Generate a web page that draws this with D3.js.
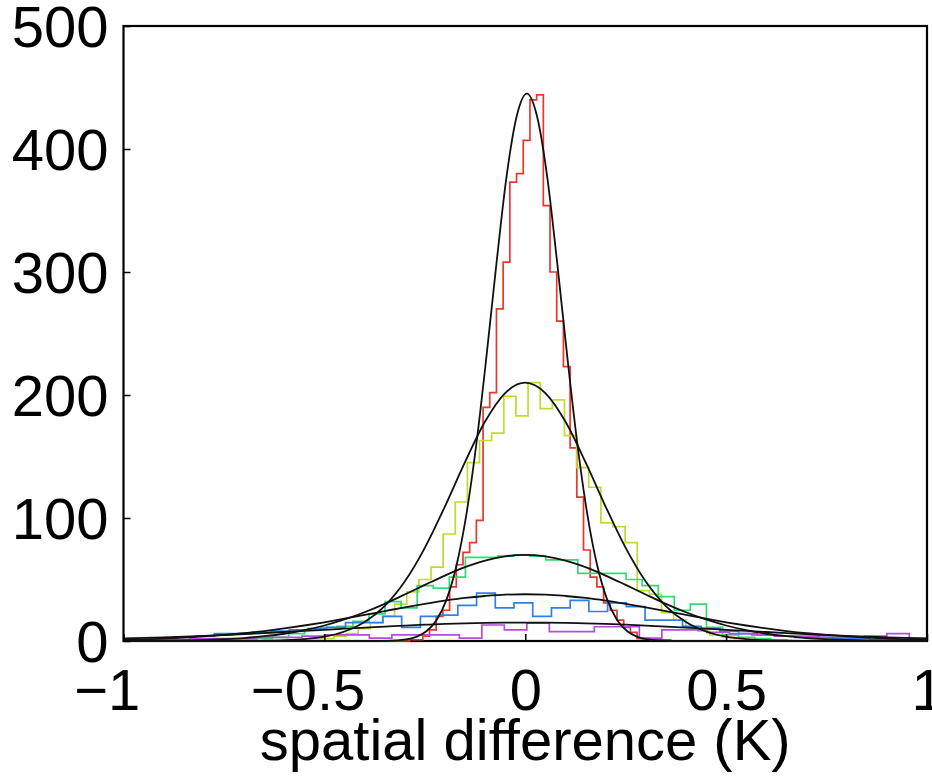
<!DOCTYPE html>
<html>
<head>
<meta charset="utf-8">
<script src="https://cdn.jsdelivr.net/npm/d3@7"></script>
<style>
  body { margin: 0; background: #fff; }
  svg { display: block; }
  text { font-family: "Liberation Sans", Arial, Helvetica, sans-serif; fill: #000; }
</style>
</head>
<body>
<script>
// histogram bins: first edge, bin width, counts
const redStart = -0.305, redWidth = 0.016667;
const redCounts = [0, 1, 1, 4, 9, 20, 25, 44, 62, 72, 80, 98, 190, 202, 270, 308, 373, 380,
  407, 440, 444, 354, 300, 260, 223, 157, 117, 74, 52, 44, 31, 25, 17, 11, 7, 2, 2, 1, 1, 1];

const yellowStart = -0.597, yellowWidth = 0.0302;
const yellowCounts = [0.5, 1, 1, 2, 4, 6, 10, 15, 20, 30, 40, 50, 60,
  87, 113, 145, 163, 169, 199, 183, 210, 189, 196, 167, 141, 125, 96, 93, 80, 41, 38, 23, 17, 12, 8, 5, 3, 2, 1, 0.5];

const greenStart = -0.789, greenWidth = 0.04;
const greenCounts = [0.5, 1, 1, 2, 3, 6, 9, 11, 12, 16, 22, 32, 27, 45, 43, 52, 68, 68, 69, 70,
  69, 66, 66, 55, 55, 55, 50, 45, 36, 25, 30, 11, 5, 3, 2, 1];

const blueStart = -0.96, blueWidth = 0.0466;
const blueCounts = [1, 2, 3, 4, 6, 6, 7, 8, 9, 10, 11, 15, 15, 20, 11, 20, 21, 29, 39, 27, 31, 20,
  27, 33, 24, 31, 28, 17, 17, 12, 10, 8, 6, 5, 4, 3, 3, 2, 2, 1, 1];

const purpleStart = -1.004, purpleWidth = 0.056;
const purpleCounts = [1, 1, 1, 2, 2, 2, 3, 3, 4, 5, 5, 2.4, 5, 5, 5, 2.4, 13, 9, 14.6, 7.6, 7.6,
  11.6, 11.6, 2.4, 9, 9, 7, 6, 5, 4, 4, 3, 3, 4, 6, 2];

// fitted curves
const redFitX = [-1, -0.396, -0.346, -0.296, -0.271, -0.246, -0.221, -0.196, -0.171, -0.146, -0.121,
  -0.096, -0.071, -0.046, -0.021, 0.004, 0.029, 0.054, 0.079, 0.104, 0.129, 0.154, 0.179, 0.204,
  0.229, 0.254, 0.279, 0.304, 0.354, 0.404, 1];
const redFitY = [0, 0, 0.16, 1.3, 3.4, 7.9, 16.9, 33.6, 61.6, 104, 162, 233, 309, 379, 427, 445,
  427, 379, 309, 233, 162, 104, 61.6, 33.6, 16.9, 7.9, 3.4, 1.3, 0.16, 0, 0];

const fitX = [-1, -0.95, -0.9, -0.85, -0.8, -0.75, -0.7, -0.65, -0.6, -0.55, -0.5, -0.45, -0.4,
  -0.35, -0.3, -0.25, -0.2, -0.15, -0.1, -0.05, 0, 0.05, 0.1, 0.15, 0.2, 0.25, 0.3, 0.35, 0.4,
  0.45, 0.5, 0.55, 0.6, 0.65, 0.7, 0.75, 0.8, 0.85, 0.9, 0.95, 1];
const yellowFitY = [0, 0, 0, 0, 0, 0, 0.07, 0.2, 0.6, 1.5, 3.5, 7.7, 15.4, 28.4, 48.3, 75.7, 109.3,
  145.4, 178.4, 201.6, 210, 201.6, 178.4, 145.4, 109.3, 75.7, 48.3, 28.4, 15.4, 7.7, 3.5, 1.5, 0.6,
  0.2, 0.07, 0, 0, 0, 0, 0, 0];
const greenFitY = [0.07, 0.14, 0.27, 0.49, 0.87, 1.5, 2.4, 3.9, 5.9, 8.8, 12.6, 17.5, 23.4, 30.2,
  37.8, 45.6, 53.2, 60, 65.4, 68.8, 70, 68.8, 65.4, 60, 53.2, 45.6, 37.8, 30.2, 23.4, 17.5, 12.6,
  8.8, 5.9, 3.9, 2.4, 1.5, 0.87, 0.49, 0.27, 0.14, 0.07];
const blueFitY = [1, 1.4, 2, 2.7, 3.7, 4.9, 6.3, 8.1, 10.2, 12.6, 15.2, 18.1, 21.2, 24.3, 27.4,
  30.2, 32.8, 35, 36.6, 37.7, 38, 37.7, 36.6, 35, 32.8, 30.2, 27.4, 24.3, 21.2, 18.1, 15.2, 12.6,
  10.2, 8.1, 6.3, 4.9, 3.7, 2.7, 2, 1.4, 1];
const purpleFitY = [2.03, 2.47, 2.97, 3.54, 4.17, 4.87, 5.63, 6.44, 7.3, 8.19, 9.1, 10, 10.9, 11.74,
  12.53, 13.24, 13.85, 14.34, 14.7, 14.93, 15, 14.93, 14.7, 14.34, 13.85, 13.24, 12.53, 11.74,
  10.9, 10, 9.1, 8.19, 7.3, 6.44, 5.63, 4.87, 4.17, 3.54, 2.97, 2.47, 2.03];

const xTicks = [-1, -0.5, 0, 0.5, 1];
const yTicks = [0, 100, 200, 300, 400, 500];
const xLabel = 'spatial difference (K)';

const width = 932, height = 783;
const plot = { left: 123.5, right: 927, top: 26, bottom: 641 };

const x = d3.scaleLinear().domain([-1, 1]).range([plot.left, plot.right]);
const y = d3.scaleLinear().domain([0, 500]).range([plot.bottom, plot.top]);

const svg = d3.select('body').append('svg')
  .attr('width', width)
  .attr('height', height);

// axis box first, data on top of it
svg.append('rect')
  .attr('x', plot.left).attr('y', plot.top)
  .attr('width', plot.right - plot.left).attr('height', plot.bottom - plot.top)
  .attr('fill', 'none')
  .attr('stroke', '#000')
  .attr('stroke-width', 2.2);

svg.append('clipPath').attr('id', 'clip')
  .append('rect')
  .attr('x', plot.left).attr('y', plot.top)
  .attr('width', plot.right - plot.left).attr('height', plot.bottom - plot.top + 1.5);

const g = svg.append('g').attr('clip-path', 'url(#clip)');

const stairs = d3.line()
  .x(d => x(d[0]))
  .y(d => y(d[1]))
  .curve(d3.curveStepAfter);

function histPoints(start, w, counts) {
  const pts = [[-1, 0]];
  counts.forEach((c, i) => pts.push([start + i * w, c]));
  pts.push([start + counts.length * w, 0]);
  pts.push([1, 0]);
  return pts;
}

const hists = [
  { start: redStart, w: redWidth, counts: redCounts, color: '#e8372c' },
  { start: yellowStart, w: yellowWidth, counts: yellowCounts, color: '#c3da2c' },
  { start: greenStart, w: greenWidth, counts: greenCounts, color: '#2fdc72' },
  { start: blueStart, w: blueWidth, counts: blueCounts, color: '#2f80e6' },
  { start: purpleStart, w: purpleWidth, counts: purpleCounts, color: '#b34ddd' },
];

g.selectAll('path.hist')
  .data(hists)
  .join('path')
  .attr('class', 'hist')
  .attr('d', d => stairs(histPoints(d.start, d.w, d.counts)))
  .attr('fill', 'none')
  .attr('stroke', d => d.color)
  .attr('stroke-width', 1.7);

const smooth = d3.line()
  .x(d => x(d[0]))
  .y(d => y(d[1]))
  .curve(d3.curveMonotoneX);

const fits = [
  d3.zip(redFitX, redFitY),
  d3.zip(fitX, yellowFitY),
  d3.zip(fitX, greenFitY),
  d3.zip(fitX, blueFitY),
  d3.zip(fitX, purpleFitY),
];

g.selectAll('path.fit')
  .data(fits)
  .join('path')
  .attr('class', 'fit')
  .attr('d', smooth)
  .attr('fill', 'none')
  .attr('stroke', '#111')
  .attr('stroke-width', 1.8);

// axes: inward ticks, bottom and left only
const fmt = d => (d < 0 ? '\u2212' : '') + Math.abs(d);

const xAxis = svg.append('g')
  .attr('transform', `translate(0,${plot.bottom})`)
  .call(d3.axisBottom(x).tickValues(xTicks).tickSize(-7).tickPadding(28).tickFormat(fmt));
xAxis.selectAll('text')
  .attr('font-size', 58)
  .attr('dx', d => (d < 0 ? '-0.29em' : 0));

const yAxis = svg.append('g')
  .attr('transform', `translate(${plot.left},0)`)
  .call(d3.axisLeft(y).tickValues(yTicks).tickSize(-7).tickPadding(15));
yAxis.selectAll('text')
  .attr('font-size', 58)
  .attr('dy', '0.36em');

svg.selectAll('.domain').remove();
svg.selectAll('.tick line').attr('stroke', '#000').attr('stroke-width', 1.5);

svg.append('text')
  .attr('x', (plot.left + plot.right) / 2)
  .attr('y', 760)
  .attr('text-anchor', 'middle')
  .attr('font-size', 58)
  .text(xLabel);
</script>
</body>
</html>
